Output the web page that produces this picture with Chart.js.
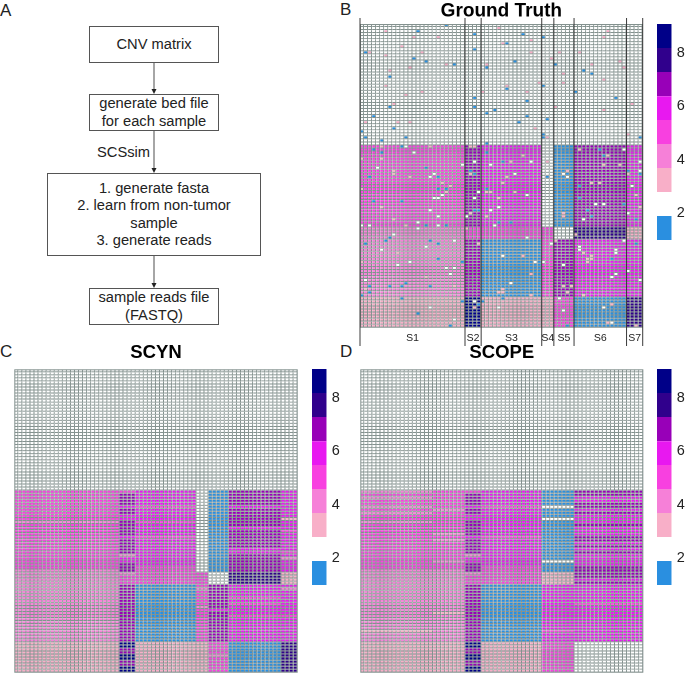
<!DOCTYPE html>
<html>
<head>
<meta charset="utf-8">
<style>
  html, body { margin: 0; padding: 0; background: #fff; overflow: hidden; }
  body { position: relative; width: 685px; height: 674px; font-family: "Liberation Sans", sans-serif; color: #222; }
  canvas { position: absolute; }
  .heat { filter: blur(0.25px); }
  .letter { position: absolute; font-size: 17px; line-height: 20px; }
  .box { position: absolute; box-sizing: border-box; border: 1px solid #555; display: flex; align-items: center; justify-content: center; text-align: center; font-size: 14.7px; line-height: 17.5px; }
  .note { position: absolute; font-size: 14.7px; line-height: 18px; }
  svg { position: absolute; left: 0; top: 0; }
</style>
</head>
<body>
<div class="letter" style="left:0;top:1px">A</div>
<div class="letter" style="left:340px;top:0">B</div>
<div class="letter" style="left:0;top:342px">C</div>
<div class="letter" style="left:340px;top:342px">D</div>

<svg width="340" height="340">
  <g stroke="#888" stroke-width="1.5">
    <line x1="154" y1="63" x2="154" y2="90"/>
    <line x1="154" y1="131" x2="154" y2="169"/>
    <line x1="154" y1="256" x2="154" y2="284"/>
  </g>
  <g fill="#222">
    <path d="M151.5 89 L156.5 89 L154 94 Z"/>
    <path d="M151.5 168 L156.5 168 L154 173 Z"/>
    <path d="M151.5 283 L156.5 283 L154 288 Z"/>
  </g>
</svg>
<div class="box" style="left:89px;top:26px;width:130px;height:37px">CNV matrix</div>
<div class="box" style="left:89px;top:94px;width:130px;height:37px">generate bed file<br>for each sample</div>
<div class="note" style="left:97px;top:143px">SCSsim</div>
<div class="box" style="left:47px;top:173px;width:214px;height:83px">1. generate fasta<br>2. learn from non-tumor<br>sample<br>3. generate reads</div>
<div class="box" style="left:89px;top:288px;width:130px;height:37px">sample reads file<br>(FASTQ)</div>

<canvas id="truthChart" class="heat" width="300" height="352" style="left:350px;top:0"></canvas>
<canvas id="truthLegend" width="28" height="216" style="left:657px;top:24px"></canvas>
<canvas id="scynChart" class="heat" width="300" height="334" style="left:4px;top:340px"></canvas>
<canvas id="scynLegend" width="30" height="216" style="left:312px;top:369px"></canvas>
<canvas id="scopeChart" class="heat" width="300" height="334" style="left:350px;top:340px"></canvas>
<canvas id="scopeLegend" width="28" height="216" style="left:657px;top:369px"></canvas>

<script src="https://cdn.jsdelivr.net/npm/chart.js@4"></script>
<script>
// copy number colours, 2 is the empty white cell
const cellColors = {1: '#2a8fe0', 2: '#ffffff', 3: '#f8afc8', 4: '#f680d8', 5: '#f840e0', 6: '#e818f0', 7: '#9800b8', 8: '#30008c', 9: '#000088'};
const gridColor = '#84928f';

const sampleNames = ['S1', 'S2', 'S3', 'S4', 'S5', 'S6', 'S7'];
const sampleWidths = [26, 4, 15, 3, 5, 13, 4];

// runs are [copy number, row where the run stops]
const truthRuns = [
  [[2,40],[5,67],[4,90],[3,100]],
  [[2,40],[7,67],[5,71],[7,90],[9,100]],
  [[2,40],[6,67],[5,71],[1,90],[3,100]],
  [[2,67],[5,90],[3,100]],
  [[2,40],[1,67],[2,71],[7,90],[5,100]],
  [[2,40],[7,67],[8,71],[6,90],[1,100]],
  [[2,40],[6,67],[3,71],[6,90],[8,100]]
];

// single cells in ground truth that differ from their block: [row, col, copy number]
const truthCells = [
  [0,21,1],[1,34,3],[2,6,3],[2,14,1],[2,61,3],[3,28,1],[3,40,1],[4,13,3],[4,19,3],[4,45,1],[4,60,3],[5,42,3],
  [6,35,3],[6,36,1],[7,10,3],[8,28,1],[9,1,1],[9,2,3],[9,15,3],[9,42,3],[9,49,3],[9,54,3],[10,6,3],[11,13,1],
  [11,47,3],[12,16,1],[12,38,1],[12,64,3],[13,21,3],[13,23,1],[13,31,3],[13,48,1],[13,57,3],[14,12,3],[14,31,1],
  [14,65,3],[15,7,3],[15,55,1],[16,50,3],[16,57,1],[17,7,1],[18,60,3],[19,44,3],[19,50,3],[20,6,3],[20,36,3],
  [20,45,1],[21,36,1],[22,15,3],[22,30,3],[22,41,3],[22,53,1],[23,11,3],[24,28,1],[24,63,1],[25,41,1],[26,8,3],
  [26,67,3],[27,7,1],[27,28,1],[27,48,3],[28,33,1],[28,60,3],[29,31,1],[30,3,1],[30,41,1],[31,46,1],[32,1,3],
  [32,9,3],[32,12,3],[32,39,1],[34,8,1],[34,43,3],[35,0,1],[36,45,1],[36,66,3],[37,1,1],[37,11,1],[37,45,1],
  [37,46,3],[37,69,1],[38,5,1],[39,31,1],
  [40,5,3],[40,10,1],[40,11,2],[40,17,3],[40,27,3],[40,28,3],[41,3,1],[41,54,3],[41,59,1],[41,65,2],[42,5,1],
  [42,13,2],[42,31,1],[43,40,3],[43,60,1],[43,61,3],[44,0,3],[44,5,3],[45,28,2],[45,35,1],[45,37,3],[45,42,2],
  [45,46,3],[45,69,2],[46,25,2],[46,32,2],[46,60,3],[46,64,3],[47,4,2],[47,16,1],[48,8,3],[48,27,1],[48,51,3],
  [48,66,1],[48,69,2],[49,8,3],[49,18,2],[49,27,3],[49,28,1],[49,38,2],[49,50,2],[49,66,3],[49,69,1],[50,2,1],
  [50,12,3],[50,17,2],[50,19,1],[50,36,3],[50,46,1],[50,51,2],
  [52,20,3],[52,35,3],[52,57,3],[52,59,3],[53,22,3],[53,54,1],[53,67,2],[54,0,3],[54,19,1],[54,21,1],[54,31,1],
  [55,21,3],[55,29,2],[55,31,3],[55,32,3],[55,38,3],[56,20,2],[56,41,2],[56,68,3],[57,18,2],[57,19,2],[57,28,2],
  [57,34,3],[57,54,1],[58,3,1],[58,10,1],[59,58,2],[59,60,2],[59,65,1],[60,5,3],[60,34,2],[60,69,3],[61,17,2],
  [61,28,1],[61,29,1],[61,32,2],[61,56,1],[62,27,3],[62,50,3],[62,66,2],[63,19,2],[63,26,2],[63,31,3],[63,50,3],
  [63,57,1],[64,8,3],[64,55,2],[64,68,1],[65,14,2],[65,34,1],[65,37,1],[66,0,2],[66,2,2],[66,11,3],[66,16,1],
  [66,19,2],[66,21,1],[66,33,2],[67,14,2],[67,26,3],[69,8,2],[69,53,3],[70,7,1],[70,41,2],[71,6,1],[71,17,1],
  [71,23,2],[71,48,3],[71,65,2],[72,1,1],[72,19,1],[72,29,3],[72,47,2],[72,68,1],[73,16,2],[73,54,2],[74,5,2],
  [74,54,2],[74,63,2],[75,9,3],[75,55,3],[75,63,2],[76,35,2],[76,40,3],[76,57,3],[77,19,1],[77,56,3],[77,57,3],
  [77,62,1],[78,0,3],[78,12,2],[78,25,1],[78,43,2],[78,45,2],[78,56,3],[79,9,2],[79,50,2],[80,21,2],[80,23,2],
  [81,66,2],[82,22,2],[82,42,3],[82,63,2],[83,16,3],[83,62,2],[84,1,2],[84,69,2],[85,11,1],[85,37,2],[86,2,1],
  [86,7,1],[86,10,1],[86,17,1],[86,23,3],[86,50,3],[86,52,3],[87,1,3],[87,35,3],[88,2,1],[88,34,3],[88,35,3],
  [88,51,3],[89,0,1],[89,42,3],[89,55,3],[90,10,1],[90,35,1],[90,49,2],[91,25,1],[91,28,2],[91,30,1],[92,29,1],
  [92,62,3],[93,17,2],[93,28,3],[93,34,2],[93,60,2],[94,50,2],[95,14,1],[97,23,2],[98,61,3],[98,62,2],[99,22,1],
  [99,51,1],[99,68,3]
];

const scynS2 = [[2,40],[5,41],[7,45],[6,46],[7,48],[6,50],[7,55],[6,56],[7,61],[4,62],[6,64],[7,67],[4,68],[5,71],[7,90],[9,92],[7,94],[9,96],[7,98],[9,100]];
const scynRuns = [
  [[2,40],[5,50],[4,51],[5,66],[4,90],[3,100]],
  scynS2,
  [[2,40],[6,45],[5,46],[6,50],[5,51],[6,55],[5,56],[6,65],[5,71],[1,90],[3,100]],
  [[2,67],[5,72],[4,73],[5,78],[4,79],[5,90],[3,100]],
  [[2,40],[1,67],[2,71],[7,79],[6,80],[7,90],[5,94],[4,95],[5,100]],
  [[2,40],[7,45],[6,46],[7,52],[6,53],[7,59],[6,61],[7,67],[8,71],[6,75],[5,76],[6,77],[5,78],[6,81],[5,82],[6,90],[1,100]],
  [[2,40],[6,49],[3,50],[6,53],[5,54],[6,60],[5,61],[6,62],[4,63],[6,67],[3,71],[6,72],[4,73],[6,81],[5,82],[6,90],[8,100]]
];

// SCOPE merges some samples, so its column groups differ
const scopeWidths = [18, 8, 4, 15, 8, 17];
const scopeRuns = [
  [[2,40],[4,41],[5,42],[4,43],[5,45],[4,46],[5,47],[4,48],[5,50],[4,51],[5,66],[4,86],[3,87],[4,90],[3,100]],
  [[2,40],[5,46],[4,47],[5,54],[4,55],[5,56],[4,57],[5,63],[4,64],[5,66],[4,80],[3,81],[4,90],[3,100]],
  scynS2,
  [[2,40],[6,45],[5,46],[6,55],[5,56],[6,65],[5,71],[1,90],[3,100]],
  [[2,40],[1,45],[2,46],[1,49],[2,50],[1,63],[2,64],[1,67],[3,71],[6,86],[5,87],[6,90],[5,100]],
  [[2,40],[7,42],[6,44],[7,46],[6,47],[7,48],[6,51],[7,52],[6,55],[7,57],[6,58],[7,59],[6,60],[7,61],[6,65],[7,69],[6,70],[7,71],[6,77],[5,78],[6,90],[2,100]]
];

// colour key: [bottom, top, copy number] on the value axis
const legendBlocks = [[0.99,1.89,1],[2.79,3.68,3],[3.68,4.58,4],[4.58,5.48,5],[5.48,6.37,6],[6.37,7.27,7],[7.27,8.17,8],[8.17,9.07,9]];
const legendTicks = [2, 4, 6, 8];

// turn column groups with row runs into one list of rows
function buildMatrix(widths, runs, cells) {
  const matrix = [];
  for (let r = 0; r < 100; r++) {
    const row = [];
    widths.forEach((w, g) => {
      const run = runs[g].find(item => r < item[1]);
      for (let i = 0; i < w; i++) row.push(run[0]);
    });
    matrix.push(row);
  }
  (cells || []).forEach(c => { matrix[c[0]][c[1]] = c[2]; });
  return matrix;
}

// one floating bar per cell, one dataset per row
function heatmap(id, matrix, title, padding, titleFont, titlePadding, plugins) {
  const labels = matrix[0].map((v, i) => i);
  const datasets = matrix.map((row, r) => ({
    data: row.map(() => [r, r + 1]),
    backgroundColor: row.map(v => cellColors[v]),
    borderColor: gridColor,
    borderWidth: {right: 1.1, bottom: 1.1},
    borderSkipped: false,
    inflateAmount: 0,
    grouped: false,
    barPercentage: 1,
    categoryPercentage: 1
  }));
  new Chart(document.getElementById(id), {
    type: 'bar',
    data: {labels: labels, datasets: datasets},
    options: {
      responsive: false,
      animation: false,
      devicePixelRatio: 2, // drawn at double size and halved so the small cells stay even
      layout: {padding: padding},
      scales: {
        x: {display: false},
        y: {display: false, min: 0, max: 100, reverse: true}
      },
      plugins: {
        legend: {display: false},
        tooltip: {enabled: false},
        title: {
          display: true,
          text: title,
          color: '#000',
          font: {family: '"Liberation Sans"', size: titleFont, weight: 'bold', lineHeight: 1.2},
          padding: titlePadding
        }
      }
    },
    plugins: [framePlugin].concat(plugins || [])
  });
}

function colorKey(id) {
  new Chart(document.getElementById(id), {
    type: 'bar',
    data: {
      labels: ['key'],
      datasets: legendBlocks.map(b => ({
        data: [[b[0], b[1]]],
        backgroundColor: cellColors[b[2]],
        grouped: false,
        barPercentage: 1,
        categoryPercentage: 1,
        inflateAmount: 0
      }))
    },
    options: {
      responsive: false,
      animation: false,
      scales: {
        x: {display: false},
        y: {
          position: 'right',
          min: 0.99,
          max: 9.07,
          grid: {display: false, drawTicks: false},
          border: {display: false},
          afterBuildTicks: axis => { axis.ticks = legendTicks.map(v => ({value: v})); },
          afterFit: axis => { axis.width = document.getElementById(id).width - 14.7; axis.paddingTop = 0; axis.paddingBottom = 0; },
          ticks: {color: '#222', padding: 5, font: {family: '"Liberation Sans"', size: 14.5}}
        }
      },
      plugins: {legend: {display: false}, tooltip: {enabled: false}}
    }
  });
}

// outer edge of the grid, bars only draw their right and bottom sides
const framePlugin = {
  id: 'frame',
  afterDatasetsDraw(chart) {
    const a = chart.chartArea, ctx = chart.ctx;
    ctx.save();
    ctx.strokeStyle = gridColor;
    ctx.strokeRect(a.left + 0.5, a.top + 0.5, a.right - a.left - 1, a.bottom - a.top - 1);
    ctx.restore();
  }
};

// sample dividers and names under ground truth
const samplePlugin = {
  id: 'samples',
  afterDatasetsDraw(chart) {
    const x = chart.scales.x, ctx = chart.ctx;
    let col = 0;
    ctx.save();
    ctx.strokeStyle = '#3a3a3a';
    ctx.fillStyle = '#222';
    ctx.font = '10.5px "Liberation Sans"';
    ctx.textAlign = 'center';
    ctx.textBaseline = 'middle';
    const line = c => {
      const px = x.getPixelForValue(c - 0.5);
      ctx.beginPath();
      ctx.moveTo(px, 18);
      ctx.lineTo(px, 346);
      ctx.stroke();
    };
    line(0);
    sampleWidths.forEach((w, i) => {
      line(col + w);
      ctx.fillText(sampleNames[i], x.getPixelForValue(col + w / 2 - 0.5), 338);
      col += w;
    });
    ctx.restore();
  }
};

heatmap('truthChart', buildMatrix(sampleWidths, truthRuns, truthCells), 'Ground Truth',
  {left: 10, right: 7.3, bottom: 24.3}, 19, {top: 0, bottom: 1.2}, [samplePlugin]);
heatmap('scynChart', buildMatrix(sampleWidths, scynRuns), 'SCYN',
  {left: 10.3, right: 6.3, bottom: 1.3}, 18.5, {top: 2, bottom: 5.1});
heatmap('scopeChart', buildMatrix(scopeWidths, scopeRuns), 'SCOPE',
  {left: 10.3, right: 6.7, bottom: 1.3}, 18.5, {top: 2, bottom: 5.1});

colorKey('truthLegend');
colorKey('scynLegend');
colorKey('scopeLegend');
</script>
</body>
</html>
